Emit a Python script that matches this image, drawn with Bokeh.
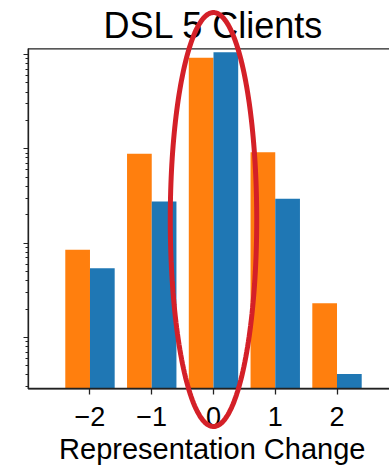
import numpy as np
from bokeh.plotting import figure
from bokeh.models import (ColumnDataSource, FixedTicker, LogTicker,
                          PolyAnnotation, BoxAnnotation, Range1d, Label)
from bokeh.transform import dodge
from bokeh.embed import file_html
from bokeh.resources import INLINE

# ---- data ----
changes = [-2, -1, 0, 1, 2]
orange_counts = [85, 885, 9230, 920, 23]
blue_counts = [54, 276, 10580, 295, 4.1]
tick_labels = {-2: "\u22122", -1: "\u22121", 0: "0", 1: "1", 2: "2"}
title_text = "DSL 5 Clients"
xlabel_text = "Representation Change"

# axes box (data units)
X_MIN, Y_MIN, Y_MAX = -3.0, 2.85, 11490

# highlight ellipse (around the 0 bars)
ell_cx, ell_rx = 0.0, 0.70
ell_clog, ell_rlog = 2.25, 2.195

ORANGE = "#ff7f0e"
BLUE = "#1f77b4"
INK = "#222222"
FONT = "Liberation Sans"

src = ColumnDataSource(dict(x=changes, o=orange_counts, b=blue_counts))

p = figure(output_backend="svg", toolbar_location=None,
           frame_width=389, frame_height=467,
           min_border_left=0, min_border_right=0,
           min_border_top=0, min_border_bottom=0,
           y_axis_type="log",
           x_range=Range1d(-3.449, 2.850), y_range=Range1d(0.4173, 37380))

p.vbar(x=dodge("x", -0.2, range=p.x_range), top="o", bottom=Y_MIN, width=0.4,
       source=src, fill_color=ORANGE, line_color=None)
p.vbar(x=dodge("x", 0.2, range=p.x_range), top="b", bottom=Y_MIN, width=0.4,
       source=src, fill_color=BLUE, line_color=None)

p.outline_line_color = None
p.grid.visible = False
p.background_fill_color = "white"
p.border_fill_color = "white"

# axes box (top spine; right side lies beyond the visible area)
p.add_layout(BoxAnnotation(left=X_MIN, right=3.5, bottom=Y_MIN, top=Y_MAX,
                           fill_alpha=0, line_color=INK, line_alpha=1,
                           line_width=1.3))

# x axis
xa = p.xaxis[0]
xa.fixed_location = Y_MIN
xa.bounds = (X_MIN, 2.850)
xa.ticker = FixedTicker(ticks=changes)
xa.major_label_overrides = tick_labels
xa.major_label_text_font = FONT
xa.major_label_text_font_size = "27px"
xa.major_label_text_color = "black"
xa.major_tick_out = 6
xa.major_tick_in = 0
xa.minor_tick_line_color = None
xa.major_tick_line_color = INK
xa.major_tick_line_width = 1.3
xa.axis_line_color = INK
xa.axis_line_width = 1.3
xa.major_label_standoff = 12

# y axis (log, labels cropped away in the original)
ya = p.yaxis[0]
ya.fixed_location = X_MIN
ya.bounds = (Y_MIN, Y_MAX)
ya.ticker = LogTicker(num_minor_ticks=10)
ya.major_label_text_font_size = "2px"
ya.major_label_text_alpha = 0
ya.major_label_standoff = 0
ya.major_tick_out = 5
ya.major_tick_in = 0
ya.minor_tick_out = 3
ya.minor_tick_in = 0
ya.major_tick_line_color = INK
ya.minor_tick_line_color = INK
ya.axis_line_color = INK
ya.axis_line_width = 1.3

# title and x label
p.add_layout(Label(x=0, y=20300, text=title_text, text_align="center",
                   text_baseline="alphabetic", text_font=FONT,
                   text_font_size="36px", text_color="black"))
p.add_layout(Label(x=-0.02, y=0.66, text=xlabel_text, text_align="center",
                   text_baseline="alphabetic", text_font=FONT,
                   text_font_size="29px", text_color="black"))

# red ellipse highlighting the zero-change bars
t = np.linspace(0, 2 * np.pi, 200)
ex = list(ell_cx + ell_rx * np.cos(t))
ey = list(10 ** (ell_clog + ell_rlog * np.sin(t)))
p.add_layout(PolyAnnotation(xs=ex, ys=ey, fill_alpha=0, line_color="#d42028",
                            line_alpha=1, line_width=5))

open("out.html", "w").write(file_html(p, INLINE))
